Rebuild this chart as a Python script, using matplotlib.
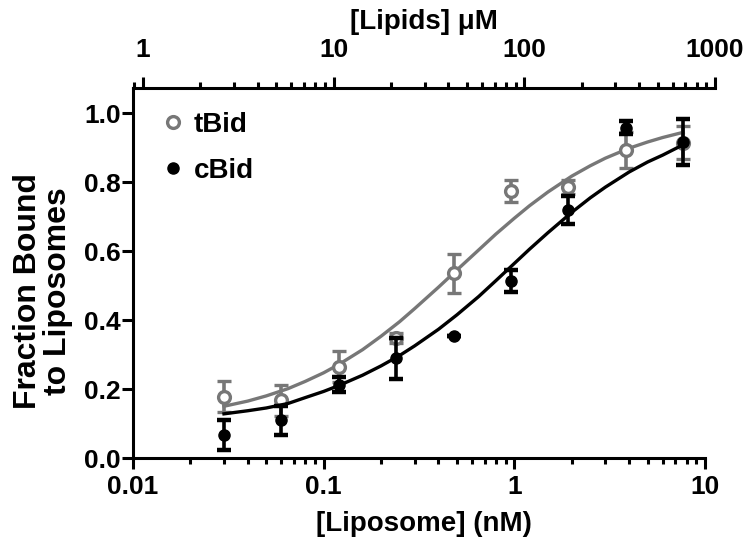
import matplotlib
matplotlib.use("Agg")
import matplotlib.pyplot as plt
from matplotlib.lines import Line2D
from matplotlib.ticker import LogLocator, FixedLocator, FuncFormatter, FormatStrFormatter

# Concentracoes de lipossomos (nM)
lipossomo = [0.03, 0.06, 0.12, 0.24, 0.48, 0.96, 1.92, 3.84, 7.68]

# tBid (circulos abertos cinza)
tbid_media = [0.178, 0.168, 0.265, 0.348, 0.535, 0.774, 0.786, 0.893, 0.914]
tbid_erro = [0.044, 0.045, 0.045, 0.015, 0.057, 0.032, 0.020, 0.053, 0.048]

# cBid (circulos preenchidos pretos)
cbid_media = [0.067, 0.110, 0.212, 0.289, 0.354, 0.514, 0.719, 0.958, 0.917]
cbid_erro = [0.044, 0.042, 0.022, 0.060, 0.0, 0.032, 0.040, 0.020, 0.067]

# Curvas ajustadas
curva_x = [0.03, 0.04, 0.05, 0.065, 0.08, 0.1, 0.12, 0.16, 0.2, 0.25, 0.3, 0.4, 0.5,
           0.65, 0.8, 1.0, 1.2, 1.5, 2, 2.5, 3, 4, 5, 6, 7.68]
curva_tbid = [0.150, 0.165, 0.180, 0.201, 0.222, 0.247, 0.271, 0.314, 0.353, 0.395,
              0.433, 0.495, 0.545, 0.603, 0.649, 0.695, 0.731, 0.771, 0.817, 0.847,
              0.869, 0.898, 0.916, 0.929, 0.944]
curva_cbid = [0.128, 0.137, 0.145, 0.158, 0.175, 0.193, 0.210, 0.240, 0.267, 0.297,
              0.325, 0.373, 0.415, 0.468, 0.514, 0.564, 0.605, 0.653, 0.712, 0.754,
              0.785, 0.829, 0.858, 0.878, 0.908]

# Eixo superior: lipidios (uM) para cada nM de lipossomo
FATOR_LIPIDIOS = 88.65
Y_TICKS = [0.0, 0.2, 0.4, 0.6, 0.8, 1.0]

CINZA = "#777777"
PRETO = "#000000"
FONTE = 19

plt.rcParams["font.family"] = ["Liberation Sans", "DejaVu Sans"]
plt.rcParams["font.weight"] = "bold"
plt.rcParams["axes.labelweight"] = "bold"

fig = plt.figure(figsize=(7.5, 5.49), dpi=100)
ax = fig.add_axes([133 / 750, 1 - 458 / 549, 582 / 750, 370 / 549])

# Pontos com barras de erro
ax.errorbar(lipossomo, tbid_media, yerr=tbid_erro, fmt="o", ms=8.5,
            mfc="white", mec=CINZA, mew=2.4, ecolor=CINZA, elinewidth=2.6,
            capsize=5, capthick=3.2, zorder=3)
ax.plot(curva_x, curva_tbid, color=CINZA, lw=2.4, zorder=2)

ax.errorbar(lipossomo, cbid_media, yerr=cbid_erro, fmt="o", ms=8,
            mfc=PRETO, mec=PRETO, ecolor=PRETO, elinewidth=2.6,
            capsize=5, capthick=3.2, zorder=5)
ax.plot(curva_x, curva_cbid, color=PRETO, lw=2.4, zorder=4)

# Eixos
ax.set_xscale("log")
ax.set_xlim(0.01, 10 * 10 ** (10 / 190.7))
ax.set_ylim(0, 1.0725)
ax.spines["top"].set_visible(False)
ax.spines["right"].set_visible(False)
ax.spines["bottom"].set_bounds(0.01, 10)
for lado in ["left", "bottom"]:
    ax.spines[lado].set_linewidth(2.2)

ax.xaxis.set_major_locator(FixedLocator([0.01, 0.1, 1, 10]))
ax.xaxis.set_minor_locator(LogLocator(base=10, subs=range(2, 10)))
ax.xaxis.set_major_formatter(FuncFormatter(lambda v, p: "%g" % v))
ax.set_yticks(Y_TICKS)
ax.yaxis.set_major_formatter(FormatStrFormatter("%.1f"))
ax.tick_params(axis="x", which="major", length=8, width=2.2, labelsize=FONTE, pad=4)
ax.tick_params(axis="x", which="minor", length=4.5, width=2.2)
ax.tick_params(axis="y", which="major", length=8, width=2.2, labelsize=FONTE, pad=1)
ax.set_xlabel("[Liposome] (nM)", fontsize=FONTE + 1, labelpad=9)
ax.set_ylabel("Fraction Bound\nto Liposomes", fontsize=FONTE + 4, linespacing=1.0)
ax.yaxis.set_label_coords(-0.103, 0.45)

# Eixo superior (lipidios)
ax2 = ax.twiny()
ax2.set_xscale("log")
ax2.set_xlim(ax.get_xlim()[0] * FATOR_LIPIDIOS, ax.get_xlim()[1] * FATOR_LIPIDIOS)
for lado in ["left", "right", "bottom"]:
    ax2.spines[lado].set_visible(False)
ax2.spines["top"].set_linewidth(2.2)
ax2.xaxis.set_major_locator(FixedLocator([1, 10, 100, 1000]))
ax2.xaxis.set_minor_locator(LogLocator(base=10, subs=range(2, 10)))
ax2.xaxis.set_major_formatter(FuncFormatter(lambda v, p: "%g" % v))
ax2.tick_params(axis="x", which="major", length=8, width=2.2, labelsize=FONTE, pad=11)
ax2.tick_params(axis="x", which="minor", length=4.5, width=2.2)
ax2.set_xlabel("[Lipids] \u03bcM", fontsize=FONTE + 1, labelpad=6)

# Legenda
alcas = [
    Line2D([], [], ls="none", marker="o", ms=8.5, mfc="white", mec=CINZA, mew=2.4),
    Line2D([], [], ls="none", marker="o", ms=8, mfc=PRETO, mec=PRETO),
]
ax.legend(alcas, ["tBid", "cBid"], loc="upper left", bbox_to_anchor=(0.045, 0.935),
          frameon=False, fontsize=FONTE + 1, handlelength=1.0, handletextpad=0.25,
          labelspacing=0.72, borderpad=0, borderaxespad=0)

fig.savefig("out.png", dpi=100)
